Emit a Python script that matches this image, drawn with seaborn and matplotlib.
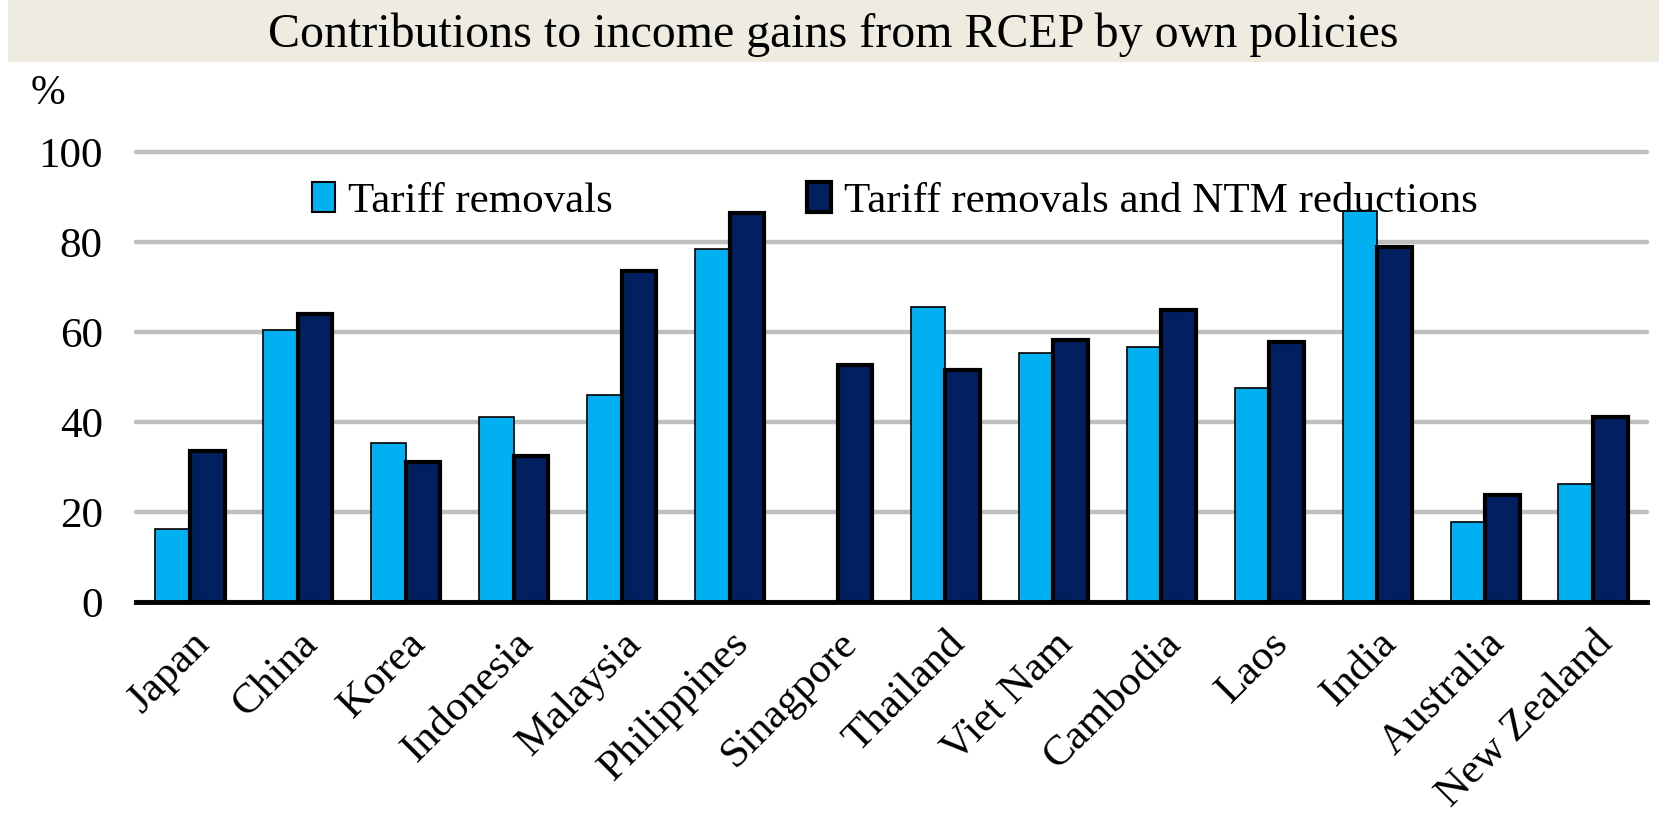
import matplotlib
matplotlib.use("Agg")
import matplotlib.pyplot as plt
import seaborn as sns
import pandas as pd
from matplotlib.patches import Rectangle, Patch

countries = ["Japan", "China", "Korea", "Indonesia", "Malaysia", "Philippines",
             "Sinagpore", "Thailand", "Viet Nam", "Cambodia", "Laos", "India",
             "Australia", "New Zealand"]
tariff_only = [16.2, 60.5, 35.3, 41.2, 46.0, 78.5, 0.0, 65.6, 55.3, 56.6, 47.5, 87.0, 17.8, 26.2]
tariff_ntm = [33.6, 64.0, 31.2, 32.4, 73.6, 86.5, 52.6, 51.5, 58.2, 64.9, 57.7, 78.8, 23.8, 41.1]
series_names = ["Tariff removals", "Tariff removals and NTM reductions"]
yticks = [0, 20, 40, 60, 80, 100]

light_blue = "#00B0F0"
navy = "#002060"

df = pd.DataFrame({
    "country": countries * 2,
    "value": tariff_only + tariff_ntm,
    "series": [series_names[0]] * len(countries) + [series_names[1]] * len(countries),
})

sns.set_theme(style="white")
plt.rcParams["font.family"] = ["Liberation Serif", "DejaVu Serif"]
plt.rcParams["text.color"] = "black"
plt.rcParams["xtick.color"] = "black"
plt.rcParams["ytick.color"] = "black"

fig = plt.figure(figsize=(16.67, 8.16), dpi=100)
ax = fig.add_axes([0.0816, 0.2623, 0.9064, 0.5514])

sns.barplot(data=df, x="country", y="value", hue="series", order=countries,
            hue_order=series_names, palette=[light_blue, navy], width=0.64,
            dodge=True, ax=ax, legend=False, saturation=1)

# edge styling: thin outline on light bars, heavy outline on navy bars
n = len(countries)
for i, bar in enumerate(ax.patches[: 2 * n]):
    bar.set_edgecolor("black")
    if i < n:
        bar.set_linewidth(1.2)
        if tariff_only[i] == 0:
            bar.set_visible(False)
    else:
        bar.set_linewidth(3.0)

ax.set_ylim(0, 100)
ax.set_xlim(-0.5, n - 0.5)
ax.set_yticks(yticks)
ax.set_yticklabels([str(t) for t in yticks])
ax.yaxis.grid(True, color="#BFBFBF", linewidth=3.2)
for gl in ax.get_ygridlines():
    gl.set_clip_on(False)
ax.set_axisbelow(True)
for s in ["top", "right", "left"]:
    ax.spines[s].set_visible(False)
ax.spines["bottom"].set_color("black")
ax.spines["bottom"].set_linewidth(3.5)
ax.spines["bottom"].set_zorder(5)
ax.set_xlabel("")
ax.set_ylabel("")
ax.tick_params(axis="y", length=0, pad=24, labelsize=31)
ax.tick_params(axis="x", length=0, pad=16, labelsize=31)
plt.setp(ax.get_xticklabels(), rotation=45, ha="right", rotation_mode="anchor")

handles = [Patch(facecolor=light_blue, edgecolor="black", linewidth=1.5),
           Patch(facecolor=navy, edgecolor="black", linewidth=3.0)]
ax.legend(handles, series_names, loc="upper center", bbox_to_anchor=(0.502, 1.02),
          ncol=2, frameon=False, fontsize=31, handlelength=0.55, handleheight=0.7,
          handletextpad=0.3, columnspacing=4.5)

# title band across the top
fig.patches.append(Rectangle((0.005, 0.924), 0.99, 0.076, transform=fig.transFigure,
                             facecolor="#EEEBE0", edgecolor="none", zorder=0))
fig.text(0.5, 0.958, "Contributions to income gains from RCEP by own policies",
         ha="center", va="center", fontsize=34.5)
fig.text(0.029, 0.885, "%", ha="center", va="center", fontsize=30)

fig.savefig("out.png", dpi=100)
